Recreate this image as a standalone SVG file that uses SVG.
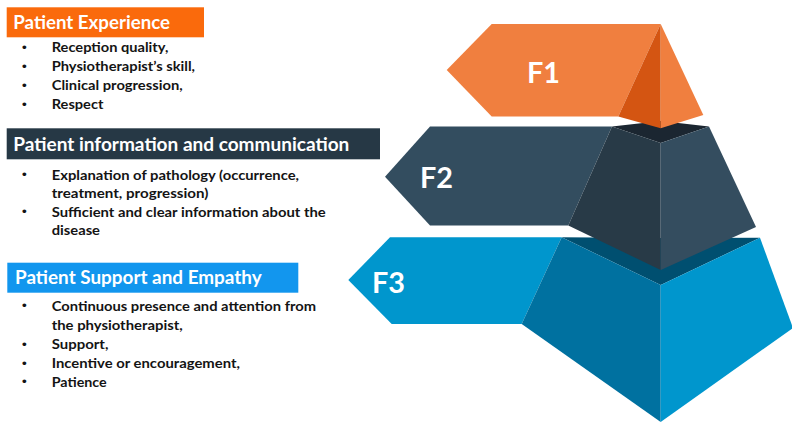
<svg xmlns="http://www.w3.org/2000/svg" width="792" height="423" viewBox="0 0 792 423">
  <style>
    .hdr { font-family: Lato, "Open Sans", sans-serif; font-weight: 700; font-size: 18.5px; fill: #ffffff; }
    .item { font-family: Lato, "Open Sans", sans-serif; font-weight: 700; font-size: 13.8px; fill: #141414; }
    .dot { font-family: "DejaVu Sans", sans-serif; font-size: 13px; fill: #141414; }
    .flabel { font-family: Lato, "Open Sans", sans-serif; font-weight: 700; font-size: 28px; fill: #ffffff; }
  </style>
  <rect width="792" height="423" fill="#ffffff"/>

  <!-- Level F3 (bottom) -->
  <g id="level-f3">
    <polygon points="390,237.3 561.7,237.3 521.7,324 391.7,324 348.3,280" fill="#0096cd"/>
    <polygon points="561.7,237.3 660.7,238 760,237.8 660.7,285" fill="#004f70"/>
    <polygon points="561.7,237.3 660.7,285 660.7,422 521.7,324" fill="#0071a0"/>
    <polygon points="660.7,285 760,237.8 793,328 660.7,422" fill="#0096cd"/>
    <text class="flabel" x="372" y="293" textLength="33" lengthAdjust="spacingAndGlyphs">F3</text>
  </g>

  <!-- Level F2 (middle) -->
  <g id="level-f2">
    <polygon points="430,126.5 612,126.5 568.3,225.5 430,225.5 385,176.7" fill="#334d5f"/>
    <polygon points="612,126.5 660.7,121 709,126.5 660.7,143" fill="#1b2631"/>
    <polygon points="612,126.5 660.7,143 660.7,270 568.3,225.5" fill="#283a47"/>
    <polygon points="660.7,143 709,126.5 756,227 660.7,270" fill="#344d5f"/>
    <text class="flabel" x="420" y="188" textLength="33" lengthAdjust="spacingAndGlyphs">F2</text>
  </g>

  <!-- Level F1 (top) -->
  <g id="level-f1">
    <polygon points="491.7,24 660.7,24 618.3,116.5 491.7,116.5 446.7,70" fill="#f07f3f"/>
    <polygon points="660.7,24 618.3,116.5 660.7,128.3" fill="#d45512"/>
    <polygon points="660.7,24 703.3,115 660.7,128.3" fill="#f07f3f"/>
    <text class="flabel" x="527" y="83" textLength="33" lengthAdjust="spacingAndGlyphs">F1</text>
  </g>

  <!-- Patient Experience -->
  <g id="patient-experience">
    <rect x="6.7" y="7.3" width="197.3" height="30" fill="#fa6a0c"/>
    <text class="hdr" x="13.3" y="29.3" textLength="156.7" lengthAdjust="spacingAndGlyphs">Patient Experience</text>
    <g class="dot">
      <text x="20.5" y="51.5">•</text>
      <text x="20.5" y="70.5">•</text>
      <text x="20.5" y="89.5">•</text>
      <text x="20.5" y="108.5">•</text>
    </g>
    <text class="item" x="51.7" y="52.3" textLength="116.7" lengthAdjust="spacingAndGlyphs">Reception quality,</text>
    <text class="item" x="51.7" y="71.3" textLength="143.3" lengthAdjust="spacingAndGlyphs">Physiotherapist’s skill,</text>
    <text class="item" x="51.7" y="90" textLength="131" lengthAdjust="spacingAndGlyphs">Clinical progression,</text>
    <text class="item" x="51.7" y="109" textLength="51.7" lengthAdjust="spacingAndGlyphs">Respect</text>
  </g>

  <!-- Patient information and communication -->
  <g id="patient-information">
    <rect x="6.7" y="128.3" width="373.3" height="31" fill="#263845"/>
    <text class="hdr" x="13.3" y="150.7" textLength="336" lengthAdjust="spacingAndGlyphs">Patient information and communication</text>
    <g class="dot">
      <text x="20.5" y="179.3">•</text>
      <text x="20.5" y="216">•</text>
    </g>
    <text class="item" x="51.7" y="180" textLength="247.3" lengthAdjust="spacingAndGlyphs">Explanation of pathology (occurrence,</text>
    <text class="item" x="51.7" y="198.3" textLength="156.7" lengthAdjust="spacingAndGlyphs">treatment, progression)</text>
    <text class="item" x="51.7" y="216.7" textLength="274" lengthAdjust="spacingAndGlyphs">Sufficient and clear information about the</text>
    <text class="item" x="51.7" y="235" textLength="48.3" lengthAdjust="spacingAndGlyphs">disease</text>
  </g>

  <!-- Patient Support and Empathy -->
  <g id="patient-support">
    <rect x="7.3" y="262.7" width="291" height="30" fill="#1296ee"/>
    <text class="hdr" x="15" y="284" textLength="246.7" lengthAdjust="spacingAndGlyphs">Patient Support and Empathy</text>
    <g class="dot">
      <text x="20.5" y="310.3">•</text>
      <text x="20.5" y="348.6">•</text>
      <text x="20.5" y="367.6">•</text>
      <text x="20.5" y="386">•</text>
    </g>
    <text class="item" x="51.7" y="311" textLength="264.3" lengthAdjust="spacingAndGlyphs">Continuous presence and attention from</text>
    <text class="item" x="51.7" y="330" textLength="131" lengthAdjust="spacingAndGlyphs">the physiotherapist,</text>
    <text class="item" x="51.7" y="349.3" textLength="56.7" lengthAdjust="spacingAndGlyphs">Support,</text>
    <text class="item" x="51.7" y="368.3" textLength="188.3" lengthAdjust="spacingAndGlyphs">Incentive or encouragement,</text>
    <text class="item" x="51.7" y="386.7" textLength="55" lengthAdjust="spacingAndGlyphs">Patience</text>
  </g>
</svg>
